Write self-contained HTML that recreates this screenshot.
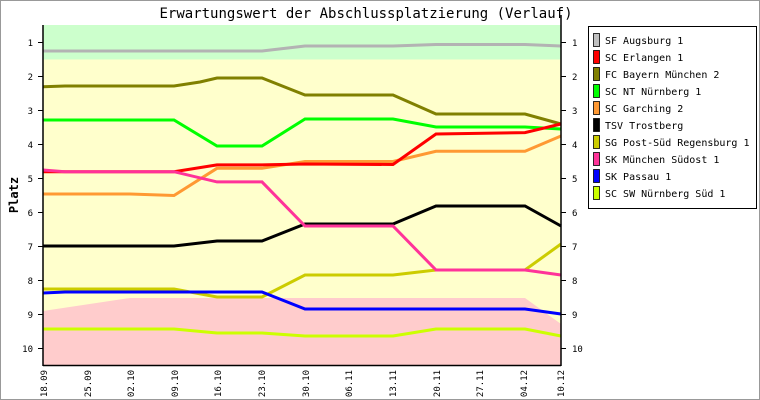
<!DOCTYPE html>
<html><head><meta charset="utf-8"><style>
body{margin:0;background:#fff}
svg{display:block;font-family:"DejaVu Sans Mono","Liberation Mono",monospace}
</style></head><body>
<svg width="760" height="400" viewBox="0 0 760 400" xmlns="http://www.w3.org/2000/svg">
<rect x="0.5" y="0.5" width="759" height="399" fill="#fff" stroke="#999"/>
<text x="366" y="18" font-size="14" text-anchor="middle">Erwartungswert der Abschlussplatzierung (Verlauf)</text>
<rect x="43" y="25" width="518" height="340" fill="#ffffcc"/>
<rect x="43" y="25" width="518" height="34.5" fill="#ccffcc"/>
<polygon fill="#ffcccc" points="43,365 43,311 130,298 525,298 561,324 561,365"/>
<g fill="none" stroke-width="3">
<polyline stroke="#b3b3b3" points="43,51 262,51 305,46 393,46 436,44.5 525,44.5 561,46"/>
<polyline stroke="#808000" points="43,86.7 65,86 174,86 200,82 217,78 262,78 305,95 393,95 436,114 525,114 561,124"/>
<polyline stroke="#00ff00" points="43,120 174,120 217,146 262,146 305,119 393,119 436,127 525,127 561,129"/>
<polyline stroke="#ff9933" points="43,194 130,194 174,195.5 217,168.3 262,168.3 305,161.5 393,161.5 436,151.3 525,151.3 561,136"/>
<polyline stroke="#ff0000" points="43,171.7 174,171.7 217,164.9 262,164.9 305,164 393,164.5 436,134 525,132.6 561,124"/>
<polyline stroke="#000000" points="43,246 174,246 217,241 262,241 305,224 393,224 436,206 525,206 561,226"/>
<polyline stroke="#cccc00" points="43,289 174,289 217,297 262,297 305,275 393,275 436,270 525,270 561,244"/>
<polyline stroke="#ff3399" points="43,170 65,171.7 174,171.7 217,181.9 262,181.9 305,226 393,226 436,270 525,270 561,275"/>
<polyline stroke="#0000ff" points="43,293 65,292 262,292 305,309 393,309 436,309 525,309 561,314"/>
<polyline stroke="#ccff00" points="43,329 174,329 217,333 262,333 305,336 393,336 436,329 525,329 561,336"/>
</g>
<g stroke="#000" stroke-width="1.5">
<line x1="43" y1="25" x2="43" y2="366"/>
<line x1="561" y1="15" x2="561" y2="366"/>
<line x1="43" y1="365.5" x2="561" y2="365.5"/>
</g>
<g stroke="#000" stroke-width="1">
<path d="M38 42.5h5M38 76.5h5M38 110.5h5M38 144.5h5M38 178.5h5M38 212.5h5M38 246.5h5M38 280.5h5M38 314.5h5M38 348.5h5"/>
<path d="M561 42.5h5M561 76.5h5M561 110.5h5M561 144.5h5M561 178.5h5M561 212.5h5M561 246.5h5M561 280.5h5M561 314.5h5M561 348.5h5"/>
</g>
<g font-size="9" text-anchor="end">
<text x="33" y="46">1</text><text x="33" y="80">2</text><text x="33" y="114">3</text><text x="33" y="148">4</text><text x="33" y="182">5</text><text x="33" y="216">6</text><text x="33" y="250">7</text><text x="33" y="284">8</text><text x="33" y="318">9</text><text x="33" y="352">10</text>
</g>
<g font-size="9">
<text x="572" y="46">1</text><text x="572" y="80">2</text><text x="572" y="114">3</text><text x="572" y="148">4</text><text x="572" y="182">5</text><text x="572" y="216">6</text><text x="572" y="250">7</text><text x="572" y="284">8</text><text x="572" y="318">9</text><text x="572" y="352">10</text>
</g>
<text x="18" y="195" font-size="12" font-weight="bold" transform="rotate(-90 18 195)" text-anchor="middle">Platz</text>
<g font-size="9" text-anchor="end">
<text transform="translate(47,370) rotate(-90)">18.09</text>
<text transform="translate(91,370) rotate(-90)">25.09</text>
<text transform="translate(134,370) rotate(-90)">02.10</text>
<text transform="translate(178,370) rotate(-90)">09.10</text>
<text transform="translate(221,370) rotate(-90)">16.10</text>
<text transform="translate(265,370) rotate(-90)">23.10</text>
<text transform="translate(309,370) rotate(-90)">30.10</text>
<text transform="translate(352,370) rotate(-90)">06.11</text>
<text transform="translate(396,370) rotate(-90)">13.11</text>
<text transform="translate(440,370) rotate(-90)">20.11</text>
<text transform="translate(483,370) rotate(-90)">27.11</text>
<text transform="translate(527,370) rotate(-90)">04.12</text>
<text transform="translate(564,370) rotate(-90)">10.12</text>
</g>
<rect x="588.5" y="26.5" width="168" height="182" fill="#fff" stroke="#000"/>
<g stroke="#000" stroke-width="0.8">
<rect x="593.5" y="33.5" width="6" height="13" fill="#c0c0c0"/>
<rect x="593.5" y="50.5" width="6" height="13" fill="#ff0000"/>
<rect x="593.5" y="67.5" width="6" height="13" fill="#808000"/>
<rect x="593.5" y="84.5" width="6" height="13" fill="#00ff00"/>
<rect x="593.5" y="101.5" width="6" height="13" fill="#ff9933"/>
<rect x="593.5" y="118.5" width="6" height="13" fill="#000000"/>
<rect x="593.5" y="135.5" width="6" height="13" fill="#cccc00"/>
<rect x="593.5" y="152.5" width="6" height="13" fill="#ff3399"/>
<rect x="593.5" y="169.5" width="6" height="13" fill="#0000ff"/>
<rect x="593.5" y="186.5" width="6" height="13" fill="#ccff00"/>
</g>
<g font-size="10">
<text x="605" y="44">SF Augsburg 1</text>
<text x="605" y="61">SC Erlangen 1</text>
<text x="605" y="78">FC Bayern München 2</text>
<text x="605" y="95">SC NT Nürnberg 1</text>
<text x="605" y="112">SC Garching 2</text>
<text x="605" y="129">TSV Trostberg</text>
<text x="605" y="146">SG Post-Süd Regensburg 1</text>
<text x="605" y="163">SK München Südost 1</text>
<text x="605" y="180">SK Passau 1</text>
<text x="605" y="197">SC SW Nürnberg Süd 1</text>
</g>
</svg>
</body></html>
